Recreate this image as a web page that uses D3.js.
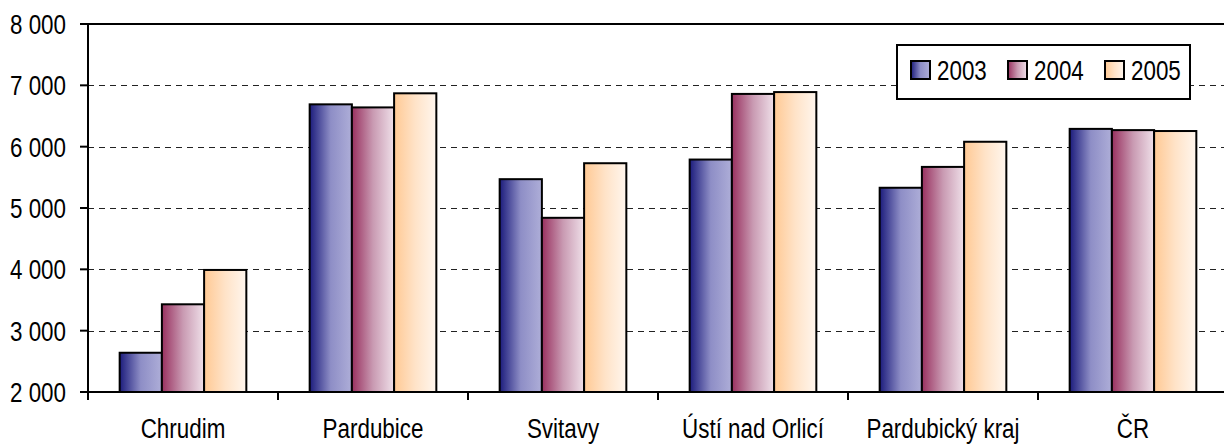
<!DOCTYPE html>
<html><head><meta charset="utf-8">
<script src="https://cdn.jsdelivr.net/npm/d3@7"></script>
<style>
html,body{margin:0;padding:0;background:#fff;overflow:hidden}
svg text{font-family:"Liberation Sans",Arial,sans-serif;font-size:28px;fill:#000}
</style></head>
<body><svg id="c" width="1224" height="445"></svg>
<script>
const categories = ["Chrudim","Pardubice","Svitavy","Ústí nad Orlicí","Pardubický kraj","ČR"];
const years = ["2003","2004","2005"];
const v2003 = [2640, 6690, 5470, 5790, 5330, 6290];
const v2004 = [3430, 6640, 4840, 6860, 5670, 6270];
const v2005 = [3990, 6870, 5730, 6890, 6080, 6255];
const yTicks = [2000,3000,4000,5000,6000,7000,8000];
const tickLabels = ["2 000","3 000","4 000","5 000","6 000","7 000","8 000"];

const series = [v2003, v2004, v2005];
const svg = d3.select("#c");
const L = 88, R = 1228, T = 24, B = 392;
const SX = 0.80; // horizontal condensing to mimic a narrow face

function txt(g, x, yy, s, anchor){
  return g.append("text").attr("transform",`translate(${x},${yy}) scale(${SX},1)`)
    .attr("text-anchor",anchor||"start").text(s);
}

const defs = svg.append("defs");
const grads = [
  [["0%","#1c1c7c"],["50%","#8e8ec6"],["100%","#aeaed8"]],
  [["0%","#98305f"],["50%","#c99ab2"],["100%","#efe0e9"]],
  [["0%","#ffc994"],["50%","#ffe3c8"],["100%","#fff6ee"]]
];
grads.forEach((g,i)=>{
  const lg = defs.append("linearGradient").attr("id","g"+i).attr("x1","0").attr("x2","1").attr("y1","0").attr("y2","0");
  g.forEach(s=>lg.append("stop").attr("offset",s[0]).attr("stop-color",s[1]));
});

const x0 = d3.scaleBand().domain(categories).range([L,R]).padding(0);
const x1 = d3.scaleBand().domain(years).range([0,x0.bandwidth()]).paddingInner(0).paddingOuter(0.75);
const y = d3.scaleLinear().domain([2000,8000]).range([B,T]);

// gridlines
svg.append("g").selectAll("line").data(yTicks.filter(t=>t>2000 && t<8000)).join("line")
  .attr("x1",L).attr("x2",R).attr("y1",d=>Math.round(y(d))+0.5).attr("y2",d=>Math.round(y(d))+0.5)
  .attr("stroke","#222").attr("stroke-width",1.2).attr("stroke-dasharray","6,5");

// top border
svg.append("line").attr("x1",L).attr("x2",R).attr("y1",T).attr("y2",T).attr("stroke","#000").attr("stroke-width",2);

// bars
const gc = svg.append("g").selectAll("g").data(categories).join("g")
  .attr("transform",d=>`translate(${x0(d)},0)`);
gc.selectAll("rect").data((d,i)=>years.map((yr,j)=>({yr,j,v:series[j][i]}))).join("rect")
  .attr("x",d=>x1(d.yr)).attr("width",x1.bandwidth())
  .attr("y",d=>y(d.v)).attr("height",d=>B-y(d.v))
  .attr("fill",d=>`url(#g${d.j})`).attr("stroke","#000").attr("stroke-width",2);

// y axis ticks & labels
const ya = svg.append("g");
ya.selectAll("line").data(yTicks).join("line")
  .attr("x1",L-8).attr("x2",L).attr("y1",d=>y(d)).attr("y2",d=>y(d))
  .attr("stroke","#000").attr("stroke-width",2);
yTicks.forEach((t,i)=>txt(ya, 66, y(t)+10, tickLabels[i], "end"));
svg.append("line").attr("x1",L).attr("x2",L).attr("y1",T-1).attr("y2",B+8).attr("stroke","#000").attr("stroke-width",2);

// x axis
svg.append("line").attr("x1",L).attr("x2",R).attr("y1",B).attr("y2",B).attr("stroke","#000").attr("stroke-width",2);
svg.append("g").selectAll("line").data(categories.slice(1)).join("line")
  .attr("x1",d=>x0(d)).attr("x2",d=>x0(d)).attr("y1",B).attr("y2",B+8)
  .attr("stroke","#000").attr("stroke-width",2);
const xa = svg.append("g");
categories.forEach(c=>txt(xa, x0(c)+x0.bandwidth()/2, B+46, c, "middle"));

// legend
const lg = svg.append("g");
lg.append("rect").attr("x",897).attr("y",45).attr("width",293).attr("height",54)
  .attr("fill","#fff").attr("stroke","#000").attr("stroke-width",2);
const lx = [911, 1008, 1105];
years.forEach((yr,j)=>{
  lg.append("rect").attr("x",lx[j]).attr("y",61).attr("width",19).attr("height",18)
    .attr("fill",`url(#g${j})`).attr("stroke","#000").attr("stroke-width",2);
  txt(lg, lx[j]+26, 80, yr, "start");
});
</script></body></html>
